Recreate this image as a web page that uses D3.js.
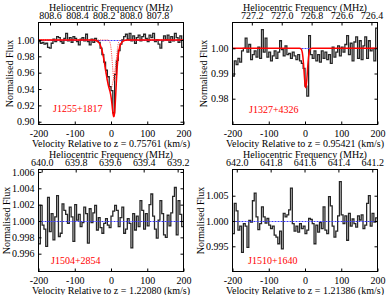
<!doctype html>
<html lang="en">
<head>
<meta charset="utf-8"/>
<title>HI absorption spectra</title>
<script src="https://d3js.org/d3.v7.min.js"></script>
<style>
  body { margin: 0; background: #fff; }
  text { font-family: "Liberation Serif", "Times New Roman", serif; fill: #000; }
</style>
</head>
<body>
<div id="chart"></div>
<script>
// channels: 5 km/s wide, starting at -200 km/s
var vStart = -200, vStep = 5;

var names = ["J1255+1817", "J1327+4326", "J1504+2854", "J1510+1640"];
var redshifts = ["0.75761", "0.95421", "1.22080", "1.21386"];

var flux1255 = [
  0.998, 0.996, 0.997, 0.995, 0.996, 0.991, 0.990, 0.996, 1.001, 0.998,
  1.004, 1.003, 0.998, 0.996, 1.002, 1.008, 0.999, 1.003, 0.997, 1.004,
  1.002, 0.998, 0.994, 1.001, 1.003, 0.999, 1.007, 0.998, 0.994, 1.001,
  0.997, 1.002, 0.999, 0.997, 0.990, 0.982, 0.973, 0.963, 0.955, 0.943,
  0.938, 0.911, 0.958, 0.975, 0.987, 0.995, 1.000, 1.004, 1.007, 1.001,
  1.008, 0.999, 1.005, 0.996, 1.003, 1.006, 0.999, 1.004, 1.007, 1.002,
  0.998, 1.006, 1.003, 1.008, 0.998, 1.000, 0.995, 0.990, 0.999, 1.005,
  1.000, 1.006, 0.997, 1.004, 0.999, 1.008, 1.003, 0.997, 1.005, 0.991
];
var flux1327 = [
  0.9890, 0.9950, 0.9935, 0.9960, 0.9945, 0.9990, 1.0000, 1.0040, 0.9985, 1.0015,
  0.9955, 0.9975, 0.9990, 0.9965, 1.0005, 0.9960, 1.0074, 0.9985, 1.0040, 0.9965,
  0.9985, 0.9950, 0.9970, 0.9990, 0.9960, 0.9985, 1.0030, 0.9995, 0.9970, 1.0010,
  0.9975, 0.9980, 0.9960, 0.9985, 0.9970, 0.9955, 0.9975, 0.9950, 0.9940, 0.9920,
  0.9850, 0.9810, 1.0050, 0.9975, 0.9960, 0.9990, 0.9950, 0.9975, 0.9945, 0.9990,
  0.9960, 0.9985, 0.9955, 0.9975, 0.9940, 1.0005, 0.9965, 0.9985, 1.0010, 0.9970,
  1.0005, 0.9985, 1.0015, 1.0050, 0.9975, 1.0020, 0.9950, 1.0025, 1.0045, 0.9960,
  1.0030, 0.9955, 1.0010, 1.0045, 0.9960, 1.0030, 0.9990, 1.0000, 0.9950, 1.0080
];
var flux1504 = [
  0.9972, 1.0019, 0.9995, 0.9990, 0.9969, 1.0029, 0.9987, 1.0009, 0.9977, 1.0005,
  1.0031, 0.9981, 0.9985, 1.0021, 1.0013, 1.0008, 0.9997, 1.0017, 1.0005, 0.9975,
  1.0020, 1.0001, 1.0008, 0.9993, 0.9998, 1.0017, 1.0009, 0.9973, 1.0015, 0.9998,
  1.0010, 1.0019, 0.9989, 1.0004, 0.9992, 0.9985, 0.9997, 1.0003, 0.9995, 0.9992,
  1.0006, 1.0012, 1.0019, 1.0013, 0.9993, 1.0004, 1.0017, 0.9985, 0.9990, 1.0003,
  0.9997, 0.9967, 1.0009, 0.9989, 1.0006, 0.9993, 1.0025, 1.0013, 0.9990, 1.0009,
  0.9994, 1.0020, 1.0033, 1.0006, 0.9990, 0.9979, 1.0001, 1.0025, 1.0009, 0.9983,
  0.9980, 1.0007, 0.9994, 1.0010, 1.0030, 1.0041, 0.9983, 1.0025, 1.0008, 0.9993
];
var flux1510 = [
  0.9975, 1.0035, 1.0020, 0.9982, 0.9990, 0.9938, 0.9995, 0.9990, 0.9948, 1.0001,
  0.9998, 1.0040, 1.0055, 1.0008, 0.9983, 0.9995, 1.0028, 1.0008, 0.9996, 1.0005,
  0.9992, 0.9985, 0.9990, 0.9972, 0.9968, 0.9955, 0.9980, 0.9945, 1.0015, 1.0008,
  1.0012, 1.0022, 1.0065, 0.9995, 0.9980, 0.9990, 0.9978, 0.9995, 0.9985, 0.9990,
  0.9975, 0.9982, 1.0005, 1.0003, 0.9995, 0.9955, 0.9992, 0.9978, 0.9997, 0.9985,
  1.0028, 0.9982, 0.9975, 1.0048, 1.0030, 0.9990, 0.9968, 0.9980, 1.0010, 1.0078,
  1.0012, 0.9995, 1.0010, 0.9962, 1.0015, 0.9990, 1.0004, 0.9995, 0.9988, 1.0010,
  1.0002, 1.0012, 0.9985, 0.9992, 1.0035, 1.0050, 0.9990, 1.0015, 0.9998, 1.0006
];

// Gaussian fit components (centre km/s, depth, sigma km/s)
var fitCentre1255 = [-2, 9];
var fitDepth1255 = [0.060, 0.050];
var fitSigma1255 = [13, 5];
var fitCentre1327 = [2];
var fitDepth1327 = [0.0155];
var fitSigma1327 = [4.5];

var yDomains = [[0.8966, 1.0214], [0.96976, 1.01024], [0.99382, 1.0063], [0.99002, 1.01018]];
var yTicks = [[0.90, 0.92, 0.94, 0.96, 0.98, 1.00], [0.98, 0.99, 1.00],
              [0.996, 0.998, 1.000, 1.002, 1.004, 1.006], [0.995, 1.000, 1.005]];
var yFormats = [".2f", ".2f", ".3f", ".3f"];
var xTicks = [-200, -100, 0, 100, 200];
var freqTicks = [[808.6, 808.4, 808.2, 808.0, 807.8], [727.2, 727.0, 726.8, 726.6, 726.4],
                 [640.0, 639.8, 639.6, 639.4, 639.2], [642.0, 641.8, 641.6, 641.4, 641.2]];

var panels = [
  { flux: flux1255, centre: fitCentre1255, depth: fitDepth1255, sigma: fitSigma1255 },
  { flux: flux1327, centre: fitCentre1327, depth: fitDepth1327, sigma: fitSigma1327 },
  { flux: flux1504 },
  { flux: flux1510 }
];

var w = 388, h = 295;
var pL = 38.5, pR = 183.5, pT = 22.5, pB = 124.5;
var offsets = [[0, 0], [194, 0], [0, 147], [194, 147]];
var namePos = [[53, 111.5], [55, 112.5], [51, 117], [54, 117]];
var ylabelX = [13, 13, 10, 10];
var c = 299792.458, nu0 = 1420.405751786;

var svg = d3.select("#chart").append("svg")
  .attr("width", w)
  .attr("height", h);

function gauss(v, cen, dep, sig) {
  return dep * Math.exp(-(v - cen) * (v - cen) / (2 * sig * sig));
}

panels.forEach(function(p, k) {
  var z = +redshifts[k];
  var g = svg.append("g")
    .attr("transform", "translate(" + offsets[k][0] + "," + offsets[k][1] + ")");

  var xScale = d3.scaleLinear().domain([-200, 200]).range([pL, pR]);
  var yScale = d3.scaleLinear().domain(yDomains[k]).range([pB, pT]);
  var freq = function(v) { return nu0 / ((1 + z) * (1 + v / c)); };
  var fScale = d3.scaleLinear().domain([freq(-200), freq(200)]).range([pL, pR]);

  g.append("clipPath").attr("id", "clip" + k)
    .append("rect")
    .attr("x", pL).attr("y", pT)
    .attr("width", pR - pL).attr("height", pB - pT);

  var plot = g.append("g").attr("clip-path", "url(#clip" + k + ")");

  // spectrum as a histogram
  var pts = p.flux.map(function(f, i) { return [vStart + vStep * i, f]; });
  pts.push([vStart + vStep * p.flux.length, p.flux[p.flux.length - 1]]);
  var step = d3.line()
    .x(function(d) { return xScale(d[0]); })
    .y(function(d) { return yScale(d[1]); })
    .curve(d3.curveStepAfter);
  plot.append("path")
    .attr("d", step(pts))
    .attr("fill", "none")
    .attr("stroke", "#262626")
    .attr("stroke-width", 1.3);

  // continuum
  var y1 = Math.round(yScale(1)) + 0.5;
  plot.append("line")
    .attr("x1", pL).attr("x2", pR)
    .attr("y1", y1).attr("y2", y1)
    .attr("stroke", "#3a3aff")
    .attr("stroke-width", 1)
    .attr("stroke-dasharray", "2,1");

  if (p.centre) {
    var grid = d3.range(-200, 200.01, 0.5);
    var smooth = d3.line()
      .x(function(d) { return xScale(d[0]); })
      .y(function(d) { return yScale(d[1]); });
    if (p.centre.length > 1) {
      p.centre.forEach(function(cen, j) {
        var comp = grid.map(function(v) { return [v, 1 - gauss(v, cen, p.depth[j], p.sigma[j])]; });
        plot.append("path")
          .attr("d", smooth(comp))
          .attr("fill", "none")
          .attr("stroke", "#ff3030")
          .attr("stroke-width", 1)
          .attr("stroke-dasharray", "1,1.2");
      });
    }
    var total = grid.map(function(v) {
      var s = 0;
      p.centre.forEach(function(cen, j) { s += gauss(v, cen, p.depth[j], p.sigma[j]); });
      return [v, 1 - s];
    });
    plot.append("path")
      .attr("d", smooth(total))
      .attr("fill", "none")
      .attr("stroke", "#ff0000")
      .attr("stroke-width", 1.5);
  }

  // axes, ticks pointing inwards
  var bAxis = d3.axisBottom(xScale).tickValues(xTicks).tickSizeInner(-3).tickSizeOuter(0)
    .tickPadding(5).tickFormat(function(d) { return String(d); });
  var tAxis = d3.axisTop(fScale).tickValues(freqTicks[k]).tickSizeInner(-3).tickSizeOuter(0)
    .tickPadding(4).tickFormat(d3.format(".1f"));
  var lAxis = d3.axisLeft(yScale).tickValues(yTicks[k]).tickSizeInner(-3).tickSizeOuter(0)
    .tickPadding(4).tickFormat(d3.format(yFormats[k]));
  var rAxis = d3.axisRight(yScale).tickValues(yTicks[k]).tickSizeInner(-3).tickSizeOuter(0)
    .tickFormat("");

  [[bAxis, "translate(0," + pB + ")"], [tAxis, "translate(0," + pT + ")"],
   [lAxis, "translate(" + pL + ",0)"], [rAxis, "translate(" + pR + ",0)"]].forEach(function(a) {
    var ax = g.append("g").attr("transform", a[1]).call(a[0]);
    ax.select(".domain").remove();
    ax.selectAll("text").attr("font-size", "10px").attr("font-family", null);
    ax.selectAll("line").attr("stroke", "#000");
  });

  // frame
  g.append("rect")
    .attr("x", pL).attr("y", pT)
    .attr("width", pR - pL).attr("height", pB - pT)
    .attr("fill", "none")
    .attr("stroke", "#000")
    .attr("stroke-width", 1);

  g.append("text")
    .attr("x", (pL + pR) / 2).attr("y", 10.5)
    .attr("text-anchor", "middle")
    .attr("font-size", "10px")
    .text("Heliocentric Frequency (MHz)");

  g.append("text")
    .attr("x", (pL + pR) / 2).attr("y", 147)
    .attr("text-anchor", "middle")
    .attr("font-size", "10px")
    .text("Velocity Relative to z = " + redshifts[k] + " (km/s)");

  g.append("text")
    .attr("transform", "translate(" + ylabelX[k] + "," + (pT + pB) / 2 + ") rotate(-90)")
    .attr("text-anchor", "middle")
    .attr("font-size", "10px")
    .text("Normalised Flux");

  g.append("text")
    .attr("x", namePos[k][0]).attr("y", namePos[k][1])
    .attr("font-size", "10px")
    .style("fill", "#ff0000")
    .text(names[k]);
});
</script>
</body>
</html>
